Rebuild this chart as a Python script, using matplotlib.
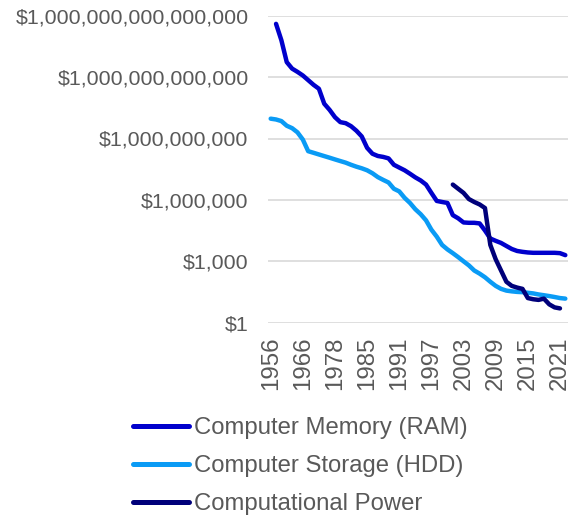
import matplotlib
matplotlib.use("Agg")
import matplotlib.pyplot as plt
import numpy as np

plt.rcParams['font.family'] = ['Liberation Sans', 'DejaVu Sans']

years = [1956, 1957, 1959, 1960, 1963, 1965, 1966, 1968, 1970, 1972, 1974, 1976,
         1978, 1979, 1980, 1981, 1982, 1984] + list(range(1985, 2023))

ram = [None, 4.0e14, 6.3e13, 5.4e12, 2.6e12, 1.8e12, 1.2e12, 7.1e11, 4.2e11, 2.7e11,
       5.0e10, 2.5e10, 1.1e10, 6.3e9, 5.6e9, 4.0e9, 2.4e9, 1.26e9, 3.5e8, 1.8e8,
       1.4e8, 1.26e8, 1.07e8, 5.2e7, 3.8e7, 2.8e7, 1.9e7, 1.26e7, 8.9e6, 5.6e6,
       2.2e6, 8.9e5, 7.9e5, 7.1e5, 1.8e5, 1.26e5, 7.9e4, 7.6e4, 7.6e4, 7.1e4,
       3.2e4, 1.3e4, 1.0e4, 7.9e3, 5.6e3, 4.0e3, 3.2e3, 2.9e3, 2.7e3, 2.6e3,
       2.6e3, 2.6e3, 2.6e3, 2.6e3, 2.5e3, 2.0e3]

hdd = [9.3e9, 8.5e9, 7.1e9, 4.2e9, 3.2e9, 2.0e9, 8.9e8, 2.4e8, 2.0e8, 1.66e8,
       1.38e8, 1.15e8, 9.5e7, 7.9e7, 6.6e7, 5.2e7, 4.2e7, 3.5e7, 2.8e7, 2.0e7,
       1.3e7, 9.5e6, 7.1e6, 3.5e6, 2.6e6, 1.26e6, 7.1e5, 3.5e5, 2.0e5, 1.0e5,
       3.5e4, 1.6e4, 6.3e3, 3.8e3, 2.5e3, 1.6e3, 1.0e3, 630, 355, 250,
       166, 100, 63, 45, 37, 34, 32, 31, 29, 27,
       24, 22, 20, 18, 16, 15]

cpu = [None] * 34 + [5.6e6, 3.5e6, 2.2e6, 1.1e6, 7.9e5, 6.0e5, 4.0e5, 6.3e3, 1.26e3, 355,
                     100, 63, 52, 45, 16, 14, 13, 15, 7.9, 5.6, 5.0, None]

series_names = ["Computer Memory (RAM)", "Computer Storage (HDD)", "Computational Power"]
colors = ["#0000CC", "#0A9BF5", "#00007A"]

ytick_vals = [1, 1e3, 1e6, 1e9, 1e12, 1e15]
ytick_labels = ["$1", "$1,000", "$1,000,000", "$1,000,000,000",
                "$1,000,000,000,000", "$1,000,000,000,000,000"]

fig = plt.figure(figsize=(5.82, 5.15), dpi=100)
ax = fig.add_axes([268/582, 1 - 322.7/515, 300/582, 307/515])

x = np.arange(len(years))
for vals, name, c in zip([ram, hdd, cpu], series_names, colors):
    y = np.array([np.nan if v is None else v for v in vals], dtype=float)
    ax.plot(x, y, color=c, lw=3.2, label=name, solid_capstyle='round',
            solid_joinstyle='round')

ax.set_yscale('log')
ax.set_ylim(1, 1e15)
ax.set_xlim(-0.5, len(years) - 0.5)
ax.set_yticks(ytick_vals)
ax.set_yticklabels(ytick_labels)
ax.yaxis.set_minor_locator(matplotlib.ticker.NullLocator())
tick_idx = list(range(0, len(years), 6))
ax.set_xticks(tick_idx)
ax.set_xticklabels([str(years[i]) for i in tick_idx], rotation=90)

ax.grid(axis='y', color='#D9D9D9', lw=1.2)
ax.set_axisbelow(True)
for s in ax.spines.values():
    s.set_visible(False)
ax.tick_params(axis='both', length=0, colors='#595959')
ax.tick_params(axis='y', labelsize=15.4, pad=14)
ax.tick_params(axis='x', labelsize=17.3, pad=10)

leg = fig.legend(loc='upper left', bbox_to_anchor=(133/582, 1 - 417/515),
                 frameon=False, fontsize=17.2, handlelength=2.35, handletextpad=0.2,
                 labelspacing=0.68, borderpad=0, borderaxespad=0)
for t in leg.get_texts():
    t.set_color('#595959')
for h in leg.get_lines():
    h.set_linewidth(3.6)

fig.savefig("out.png", dpi=100)
